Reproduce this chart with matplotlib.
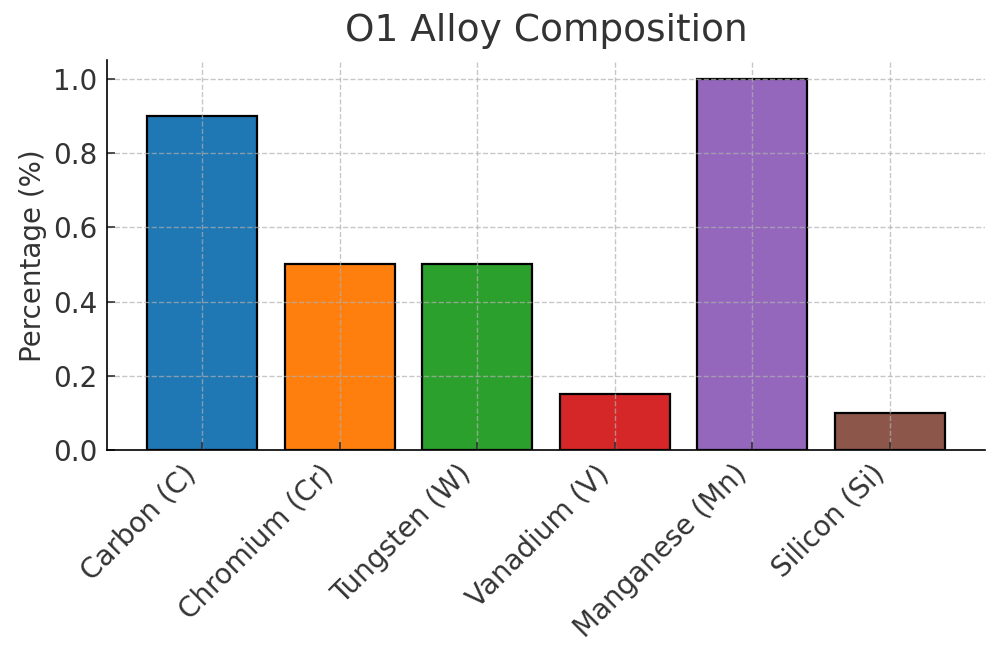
import matplotlib.pyplot as plt

elements = ["Carbon (C)", "Chromium (Cr)", "Tungsten (W)", "Vanadium (V)", "Manganese (Mn)", "Silicon (Si)"]
percentages = [0.9, 0.5, 0.5, 0.15, 1.0, 0.1]
colors = ["#1f77b4", "#ff7f0e", "#2ca02c", "#d62728", "#9467bd", "#8c564b"]

plt.rcParams['font.family'] = ['DejaVu Sans']
plt.rcParams['text.color'] = '#333333'
plt.rcParams['axes.labelcolor'] = '#333333'
plt.rcParams['xtick.color'] = '#333333'
plt.rcParams['ytick.color'] = '#333333'

fig, ax = plt.subplots(figsize=(10, 6.62), dpi=100)
ax.bar(elements, percentages, color=colors, edgecolor="black", linewidth=1.6)
ax.set_title("O1 Alloy Composition", fontsize=27, pad=14)
ax.set_ylabel("Percentage (%)", fontsize=20)
ax.tick_params(axis='both', labelsize=20, direction='in', length=6, width=1.2, pad=7)
plt.setp(ax.get_xticklabels(), rotation=45, ha="right")
ax.grid(True, linestyle="--", color="#b0b0b0", alpha=0.7, linewidth=1)
ax.spines['top'].set_visible(False)
ax.spines['right'].set_visible(False)
ax.spines['left'].set_linewidth(1.2)
ax.spines['bottom'].set_linewidth(1.2)
fig.subplots_adjust(left=0.107, right=0.985, top=0.909, bottom=0.32)
fig.savefig("out.png")
